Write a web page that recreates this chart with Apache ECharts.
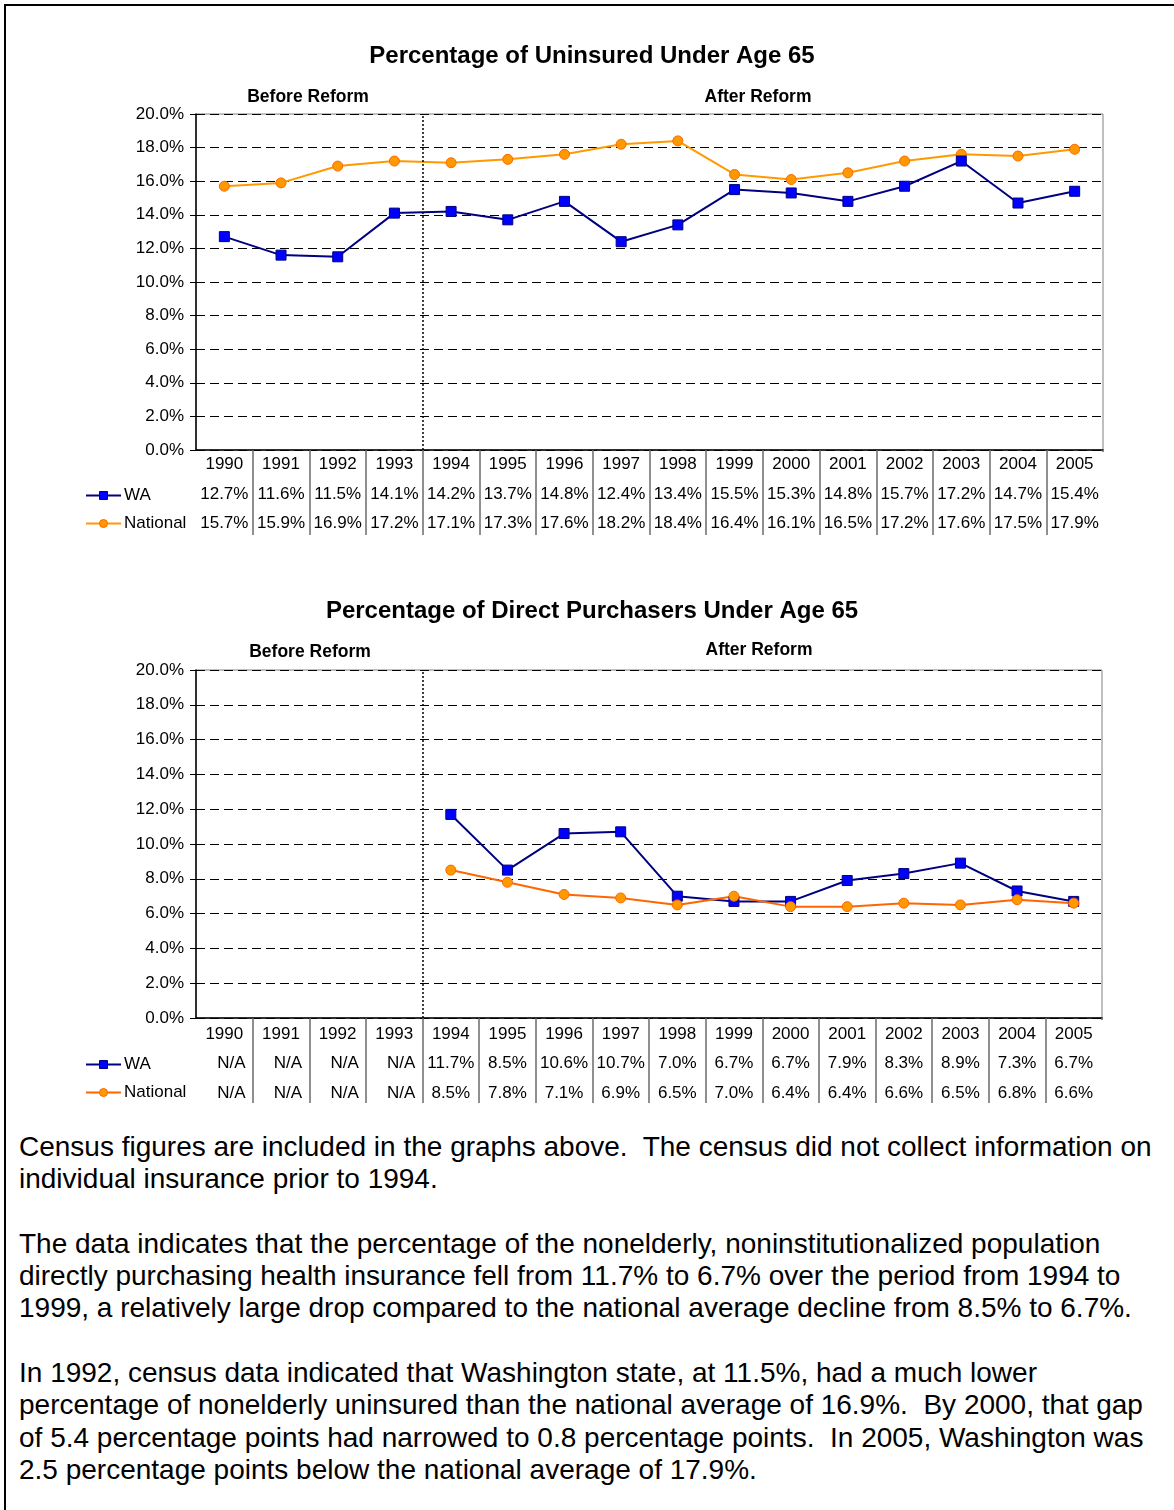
<!DOCTYPE html>
<html><head><meta charset="utf-8">
<script src="https://cdn.jsdelivr.net/npm/echarts@6/dist/echarts.min.js"></script>
<style>
html,body{margin:0;padding:0;background:#fff;}
#frame{position:absolute;left:4px;top:4px;width:1200px;height:1530px;border-left:2px solid #000;border-top:2px solid #000;box-sizing:border-box;}
#chart{position:absolute;left:0;top:0;width:1174px;height:1115px;}
#txt{position:absolute;left:19px;top:1131px;font-family:'Liberation Sans',Arial,sans-serif;font-size:28px;line-height:32.3px;color:#000;white-space:pre;}
</style></head>
<body>
<div id="frame"></div>
<div id="chart"></div>
<div id="txt">Census figures are included in the graphs above.  The census did not collect information on
individual insurance prior to 1994.

The data indicates that the percentage of the nonelderly, noninstitutionalized population
directly purchasing health insurance fell from 11.7% to 6.7% over the period from 1994 to
1999, a relatively large drop compared to the national average decline from 8.5% to 6.7%.

In 1992, census data indicated that Washington state, at 11.5%, had a much lower
percentage of nonelderly uninsured than the national average of 16.9%.  By 2000, that gap
of 5.4 percentage points had narrowed to 0.8 percentage points.  In 2005, Washington was
2.5 percentage points below the national average of 17.9%.</div>
<script>
const years = ['1990','1991','1992','1993','1994','1995','1996','1997','1998','1999','2000','2001','2002','2003','2004','2005'];
const uninsuredWA = [12.7,11.6,11.5,14.1,14.2,13.7,14.8,12.4,13.4,15.5,15.3,14.8,15.7,17.2,14.7,15.4];
const uninsuredNational = [15.7,15.9,16.9,17.2,17.1,17.3,17.6,18.2,18.4,16.4,16.1,16.5,17.2,17.6,17.5,17.9];
const directWA = [null,null,null,null,11.7,8.5,10.6,10.7,7.0,6.7,6.7,7.9,8.3,8.9,7.3,6.7];
const directNational = [null,null,null,null,8.5,7.8,7.1,6.9,6.5,7.0,6.4,6.4,6.6,6.5,6.8,6.6];
const yMin = 0, yMax = 20, yStep = 2;
const reformIndex = 4; // first "After Reform" year position
const chartTitles = ['Percentage of Uninsured Under Age 65', 'Percentage of Direct Purchasers Under Age 65'];

const FONT = "'Liberation Sans', Arial, sans-serif";
const fmt = v => (v == null ? 'N/A' : v.toFixed(1) + '%');
const cell = v => (v == null ? '{na|N/A}' : '{v|' + fmt(v) + '}');
const rich = {
  yr: {fontSize: 17, lineHeight: 29.5, color: '#000', fontFamily: FONT},
  v: {fontSize: 17, lineHeight: 29.5, color: '#000', fontFamily: FONT},
  na: {fontSize: 17, lineHeight: 29.5, color: '#000', fontFamily: FONT, padding: [0, 0, 0, 14]}
};

const grids = [
  {left: 196, top: 114, width: 907, height: 336},
  {left: 196, top: 670, width: 906, height: 348}
];
const waStyle = {color: '#0000FF', borderColor: '#000080', borderWidth: 1};
const natStyle = {color: '#FF9900', borderColor: '#FF6600', borderWidth: 1};
const natLine = ['#FF9900', '#FF6600'];

const xAxes = [], yAxes = [], series = [], legends = [];
[[uninsuredWA, uninsuredNational], [directWA, directNational]].forEach((pair, g) => {
  const [wa, nat] = pair;
  xAxes.push({
    gridIndex: g, type: 'category', data: years, boundaryGap: true,
    axisLine: {show: true, lineStyle: {color: '#000', width: 1.5}},
    axisTick: {show: true, length: 85, interval: (i) => i > 0, lineStyle: {color: '#6b6b6b', width: 1.5}},
    axisLabel: {interval: 0, margin: g === 0 ? 0 : 1.5, rich: rich,
      formatter: (val, i) => '{yr|' + val + '}\n' + cell(wa[i]) + '\n' + cell(nat[i])},
    splitLine: {show: false}
  });
  xAxes.push({gridIndex: g, type: 'value', min: 0, max: years.length, show: false});
  yAxes.push({
    gridIndex: g, type: 'value', min: yMin, max: yMax, interval: yStep,
    axisLine: {show: true, lineStyle: {color: '#000', width: 1.5}},
    axisTick: {show: true, length: 6, lineStyle: {color: '#000'}},
    axisLabel: {margin: 12, fontSize: 17, color: '#000', fontFamily: FONT, formatter: v => v.toFixed(1) + '%'},
    splitLine: {show: true, lineStyle: {color: '#000', type: [9, 5], width: 1}}
  });
  const waSeries = {
    name: 'WA', type: 'line', xAxisIndex: g * 2, yAxisIndex: g, data: wa,
    symbol: 'rect', symbolSize: 10, showAllSymbol: true,
    lineStyle: {color: '#000080', width: 2}, itemStyle: waStyle, z: 3
  };
  const natSeries = {
    name: 'National', type: 'line', xAxisIndex: g * 2, yAxisIndex: g, data: nat,
    symbol: 'circle', symbolSize: 10, showAllSymbol: true,
    lineStyle: {color: natLine[g], width: 2}, itemStyle: natStyle, z: 3
  };
  if (g === 0) series.push(natSeries, waSeries); else series.push(waSeries, natSeries);
  series.push({
    type: 'line', xAxisIndex: g * 2 + 1, yAxisIndex: g, data: [[reformIndex, yMin]],
    symbol: 'none', lineStyle: {opacity: 0}, silent: true,
    markLine: {silent: true, symbol: ['none', 'none'], label: {show: false},
      lineStyle: {type: [2, 2], color: '#000', width: 1.5}, data: [{xAxis: reformIndex}]}
  });
  legends.push({
    left: 80, top: g === 0 ? 482 : 1051, orient: 'vertical', itemWidth: 35, itemHeight: 10, itemGap: 11,
    selectedMode: false,
    textStyle: {fontSize: 17, color: '#000', fontFamily: FONT, padding: [0, 0, 0, -2]},
    data: [
      {name: 'WA', itemStyle: waStyle, lineStyle: {color: '#000080', width: 2}},
      {name: 'National', itemStyle: natStyle, lineStyle: {color: natLine[g], width: 2}}
    ]
  });
});

const txt = (x, y, s, size) => ({type: 'text', x: x, y: y, z: 10,
  style: {text: s, font: 'bold ' + size + 'px ' + FONT, fill: '#000', textAlign: 'center', textVerticalAlign: 'middle'}});

const chart = echarts.init(document.getElementById('chart'), null, {renderer: 'canvas'});
chart.setOption({
  backgroundColor: 'transparent',
  animation: false,
  grid: grids.map(gr => Object.assign({show: true, borderColor: '#808080', borderWidth: 1, backgroundColor: 'transparent'}, gr)),
  xAxis: xAxes, yAxis: yAxes, series: series, legend: legends,
  graphic: [
    txt(592, 56, chartTitles[0], 24), txt(308, 97, 'Before Reform', 17.5), txt(758, 97, 'After Reform', 17.5),
    txt(592, 611, chartTitles[1], 24), txt(310, 652, 'Before Reform', 17.5), txt(759, 650, 'After Reform', 17.5),
    {type: 'rect', shape: {x: 1101, y: 452, width: 8, height: 88}, style: {fill: '#fff'}, z: 20},
    {type: 'rect', shape: {x: 1100, y: 1020, width: 8, height: 88}, style: {fill: '#fff'}, z: 20}
  ]
});
</script>
</body></html>
